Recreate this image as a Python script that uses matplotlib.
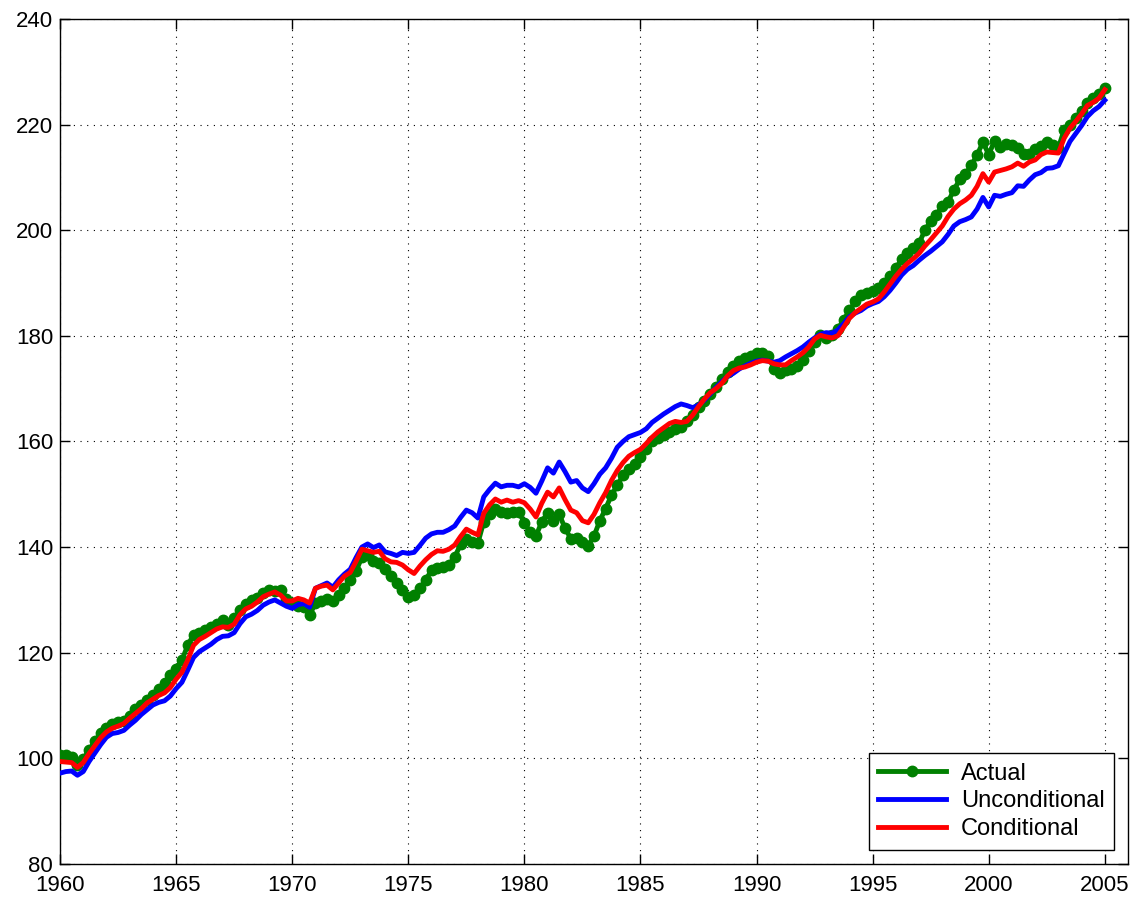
import numpy as np
import matplotlib
matplotlib.use("Agg")
import matplotlib.pyplot as plt

plt.rcParams['font.family'] = ['Liberation Sans', 'DejaVu Sans']

# Quarterly observations, 1960Q1 .. 2005Q1
start_year = 1960
actual = [
    100.6, 100.6, 100.2, 98.7, 99.8, 101.6, 103.2, 104.8,
    105.8, 106.5, 106.9, 107.1, 108.0, 109.3, 110.1, 111.0,
    112.0, 113.2, 114.3, 115.8, 117.0, 118.6, 121.4, 123.4,
    123.8, 124.3, 124.9, 125.4, 126.2, 125.2, 126.6, 128.0,
    129.3, 130.0, 130.4, 131.4, 131.9, 131.7, 131.9, 130.2,
    129.5, 128.9, 128.6, 127.1, 129.4, 129.8, 130.1, 129.8,
    131.0, 132.3, 133.7, 135.4, 138.1, 138.5, 137.4, 136.9,
    135.9, 134.6, 133.2, 131.8, 130.5, 131.0, 132.2, 133.8,
    135.6, 136.1, 136.3, 136.7, 138.1, 140.5, 141.5, 140.9,
    140.8, 144.8, 146.3, 147.3, 146.6, 146.4, 146.7, 146.7,
    144.6, 142.8, 142.1, 144.8, 146.5, 145.0, 146.2, 143.6,
    141.6, 141.8, 140.9, 140.3, 142.1, 145.0, 147.3, 149.8,
    151.7, 153.6, 154.8, 155.8, 157.0, 158.6, 160.0, 160.6,
    161.2, 161.7, 162.3, 162.8, 163.8, 165.0, 166.6, 167.7,
    169.0, 170.3, 171.9, 173.2, 174.3, 175.3, 175.8, 176.2,
    176.7, 176.7, 176.2, 173.8, 172.9, 173.5, 173.8, 174.3,
    175.5, 177.2, 178.8, 180.2, 179.6, 180.1, 181.3, 183.0,
    184.8, 186.5, 187.7, 188.2, 188.4, 189.0, 190.0, 191.3,
    192.8, 194.5, 195.6, 196.7, 197.5, 200.0, 201.7, 202.9,
    204.6, 205.4, 207.6, 209.6, 210.6, 212.3, 214.2, 216.7,
    214.3, 216.9, 215.8, 216.4, 216.2, 215.6, 214.5, 214.4,
    215.3, 216.0, 216.7, 216.2, 215.6, 219.0, 220.0, 221.2,
    222.6, 224.1, 225.0, 225.8, 226.9,
]
unconditional = [
    97.2, 97.5, 97.6, 96.8, 97.5, 99.4, 101.0, 102.6,
    104.0, 104.7, 104.9, 105.3, 106.3, 107.2, 108.3, 109.2,
    110.1, 110.6, 110.9, 111.8, 113.2, 114.4, 116.7, 119.1,
    120.2, 120.9, 121.6, 122.5, 123.1, 123.2, 123.8, 125.5,
    126.8, 127.3, 128.0, 129.0, 129.6, 130.0, 129.4, 128.8,
    128.4, 129.1, 129.3, 128.6, 132.2, 132.7, 133.2, 132.4,
    133.8, 134.9, 135.8, 138.0, 140.0, 140.6, 139.9, 140.4,
    139.1, 138.8, 138.4, 139.0, 138.8, 139.0, 140.3, 141.7,
    142.5, 142.8, 142.8, 143.3, 144.0, 145.6, 147.0, 146.5,
    145.5, 149.5, 150.9, 152.1, 151.4, 151.7, 151.7, 151.4,
    152.0, 151.3, 150.2, 152.5, 155.0, 154.0, 156.1, 154.3,
    152.3, 152.6, 151.2, 150.5, 152.0, 153.8, 155.0, 156.8,
    158.9, 160.0, 160.9, 161.3, 161.7, 162.4, 163.6, 164.4,
    165.2, 165.9, 166.6, 167.1, 166.8, 166.4, 166.9, 167.8,
    169.0, 170.2, 171.3, 172.3, 172.9, 173.7, 174.3, 174.8,
    175.2, 175.4, 175.2, 175.0, 175.3, 176.0, 176.6, 177.2,
    177.9, 178.8, 179.6, 180.3, 180.6, 180.5, 181.1, 182.3,
    183.6, 184.3, 184.8, 185.6, 186.1, 186.5, 187.4, 188.6,
    190.0, 191.5, 192.6, 193.3, 194.3, 195.2, 196.0, 196.9,
    197.8, 199.2, 200.8, 201.6, 202.0, 202.5, 204.0, 206.2,
    204.4, 206.6, 206.4, 206.8, 207.1, 208.4, 208.3, 209.5,
    210.5, 210.9, 211.7, 211.8, 212.2, 214.5, 216.8, 218.3,
    219.8, 221.5, 222.6, 223.4, 224.6,
]
conditional = [
    99.4, 99.3, 99.2, 98.3, 99.2, 100.9, 102.4, 103.9,
    105.0, 105.7, 106.1, 106.6, 107.6, 108.5, 109.4, 110.5,
    111.2, 111.9, 112.4, 113.4, 115.0, 116.3, 118.6, 121.4,
    122.5, 123.1, 123.8, 124.5, 124.9, 124.8, 125.4, 127.2,
    128.3, 128.8, 129.6, 130.6, 131.1, 131.5, 130.9, 129.8,
    129.8, 130.3, 130.0, 129.4, 132.2, 132.6, 132.8, 131.9,
    133.2, 134.5, 135.2, 137.3, 139.6, 139.3, 139.0, 139.2,
    137.8, 137.2, 137.1, 136.6, 135.7, 135.0, 136.4, 137.6,
    138.6, 139.3, 139.2, 139.6, 140.4, 142.0, 143.4, 142.8,
    142.3, 146.4, 148.0, 149.1, 148.5, 148.9, 148.5, 148.8,
    148.4, 147.2, 145.7, 148.3, 150.4, 149.5, 151.2, 149.0,
    147.0, 146.5, 145.0, 144.6, 146.2, 148.4, 150.3, 152.6,
    154.5, 156.0, 157.2, 157.9, 158.5, 159.6, 160.8, 161.8,
    162.6, 163.4, 163.8, 163.6, 163.8, 165.0, 166.6, 168.0,
    169.2, 170.0, 171.0, 172.4, 173.4, 173.9, 174.1, 174.5,
    175.0, 175.3, 175.2, 174.7, 174.5, 174.5, 175.3, 176.0,
    176.8, 177.9, 179.4, 180.1, 179.8, 179.6, 180.0, 181.6,
    183.3, 184.4, 185.2, 186.0, 186.4, 187.0, 188.3, 189.8,
    191.3, 192.6, 193.7, 194.6, 195.6, 197.0, 198.2, 199.5,
    200.8, 202.6, 204.0, 205.0, 205.7, 206.6, 208.3, 210.7,
    209.1, 211.0, 211.3, 211.6, 212.0, 212.7, 212.1, 212.9,
    213.3, 214.3, 214.8, 214.7, 214.6, 217.4, 219.3, 220.6,
    222.0, 223.6, 224.2, 225.0, 226.6,
]
x_ticks = [1960, 1965, 1970, 1975, 1980, 1985, 1990, 1995, 2000, 2005]
y_ticks = [80, 100, 120, 140, 160, 180, 200, 220, 240]

t = start_year + np.arange(len(actual)) / 4.0

fig = plt.figure(figsize=(11.37, 9.0), dpi=100)
ax = fig.add_axes([0.0528, 0.04, 0.9393, 0.939])

ax.plot(t, actual, color='#008000', lw=3.5, marker='o', ms=7.5,
        mec='#008000', mfc='#008000', label='Actual', zorder=3)
ax.plot(t, unconditional, color='#0000FF', lw=3.5, label='Unconditional', zorder=4)
ax.plot(t, conditional, color='#FF0000', lw=3.5, label='Conditional', zorder=5)

ax.set_xlim(1960, 2006)
ax.set_ylim(80, 240)
ax.set_xticks(x_ticks)
ax.set_yticks(y_ticks)
ax.tick_params(direction='in', length=7, width=1, top=True, right=True,
               labelsize=16, colors='black')
ax.tick_params(axis='x', pad=8)
ax.tick_params(axis='y', pad=5)
for lbl in ax.get_yticklabels():
    lbl.set_verticalalignment('center_baseline')
ax.grid(True, color='black', linestyle=(0, (1, 5)), linewidth=0.8)
for s in ax.spines.values():
    s.set_linewidth(1.0)
    s.set_color('black')

leg = ax.legend(loc='lower right', fontsize=17, frameon=True, fancybox=False,
                edgecolor='black', framealpha=1, borderaxespad=0.6,
                handlelength=2.9, handletextpad=0.6, borderpad=0.4,
                labelspacing=0.25)
leg.get_frame().set_linewidth(1.0)

fig.savefig('out.png', dpi=100)
